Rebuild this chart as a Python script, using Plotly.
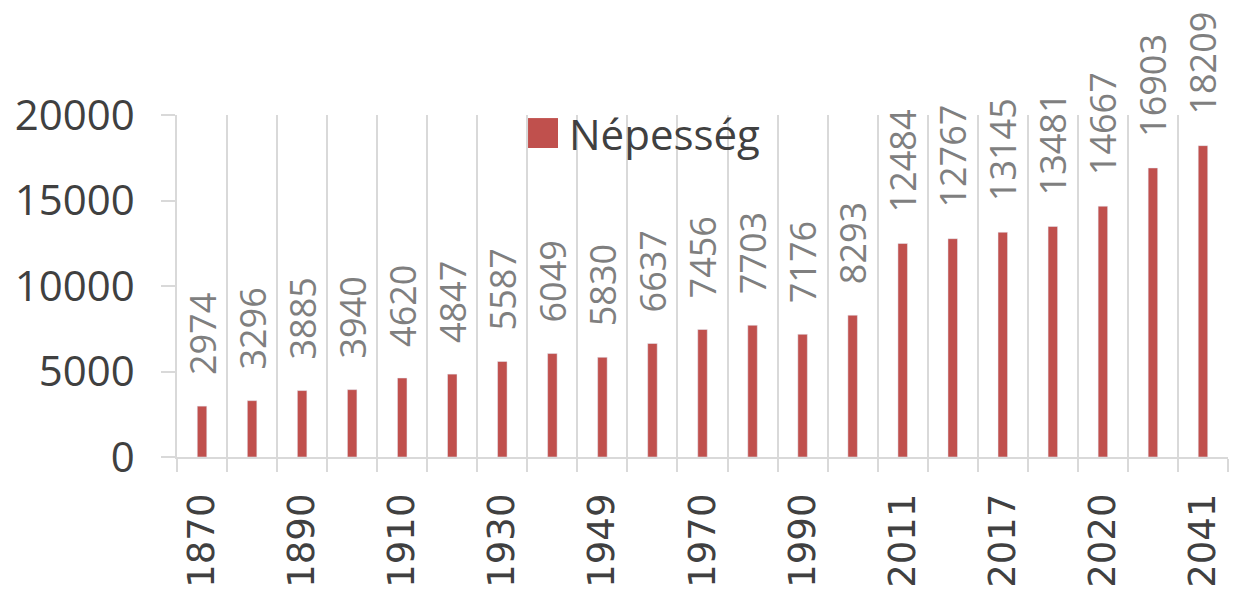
import plotly.graph_objects as go

# Census / projection years (only every other one is labelled on the axis)
years = ["1870", "1880", "1890", "1900", "1910", "1920", "1930", "1941", "1949", "1960",
         "1970", "1980", "1990", "2001", "2011", "2016", "2017", "2019", "2020", "2030", "2041"]
population = [2974, 3296, 3885, 3940, 4620, 4847, 5587, 6049, 5830, 6637,
              7456, 7703, 7176, 8293, 12484, 12767, 13145, 13481, 14667, 16903, 18209]
shown_labels = ["1870", "1890", "1910", "1930", "1949", "1970", "1990", "2011", "2017", "2020", "2041"]
series_name = "Népesség"
y_ticks = [0, 5000, 10000, 15000, 20000]

bar_color = "#C0504D"
grid_color = "#D9D9D9"
text_dark = "#404040"

fig = go.Figure()
fig.add_trace(go.Bar(
    x=years,
    y=population,
    name=series_name,
    marker={"color": bar_color},
    width=0.19,
    texttemplate="\u00a0\u00a0\u00a0%{y:d}",
    textposition="outside",
    textangle=-90,
    constraintext="none",
    cliponaxis=False,
    textfont={"family": "Open Sans", "size": 36, "color": "#7F7F7F"},
    showlegend=False,
))

# Hand-drawn legend so the swatch matches the large text
fig.add_shape(type="rect", xref="paper", yref="paper",
              x0=0.334, x1=0.3625, y0=0.9035, y1=0.991,
              fillcolor=bar_color, line={"width": 0})
fig.add_annotation(xref="paper", yref="paper", x=0.371, y=0.947,
                   xanchor="left", yanchor="middle", showarrow=False,
                   text=series_name,
                   font={"family": "Open Sans", "size": 42, "color": text_dark})

fig.update_xaxes(
    type="category",
    tickson="boundaries",
    tickmode="array",
    tickvals=years,
    ticktext=[y if y in shown_labels else "" for y in years],
    tickangle=-90,
    ticks="outside",
    ticklen=13,
    tickwidth=1.5,
    tickcolor=grid_color,
    ticklabelstandoff=20,
    showgrid=True,
    gridcolor=grid_color,
    gridwidth=1.5,
    showline=True,
    linecolor=grid_color,
    linewidth=1.5,
    automargin=False,
    tickfont={"family": "DejaVu Sans", "size": 37, "color": text_dark},
)
fig.update_yaxes(
    range=[0, 20000],
    tickvals=y_ticks,
    tickformat="d",
    showgrid=False,
    zeroline=False,
    showline=True,
    linecolor=grid_color,
    linewidth=1.5,
    ticks="outside",
    ticklen=14,
    tickwidth=1.5,
    tickcolor=grid_color,
    ticklabelstandoff=18,
    automargin=False,
    tickfont={"family": "Open Sans", "size": 42, "color": text_dark},
)

# The page body adds an 8px offset, so the figure is sized to fit the window
fig.update_layout(
    width=1232,
    height=588,
    margin={"l": 169, "r": 12, "t": 107, "b": 139},
    plot_bgcolor="white",
    paper_bgcolor="white",
    bargap=0.8,
)

fig.write_html("out.html")
